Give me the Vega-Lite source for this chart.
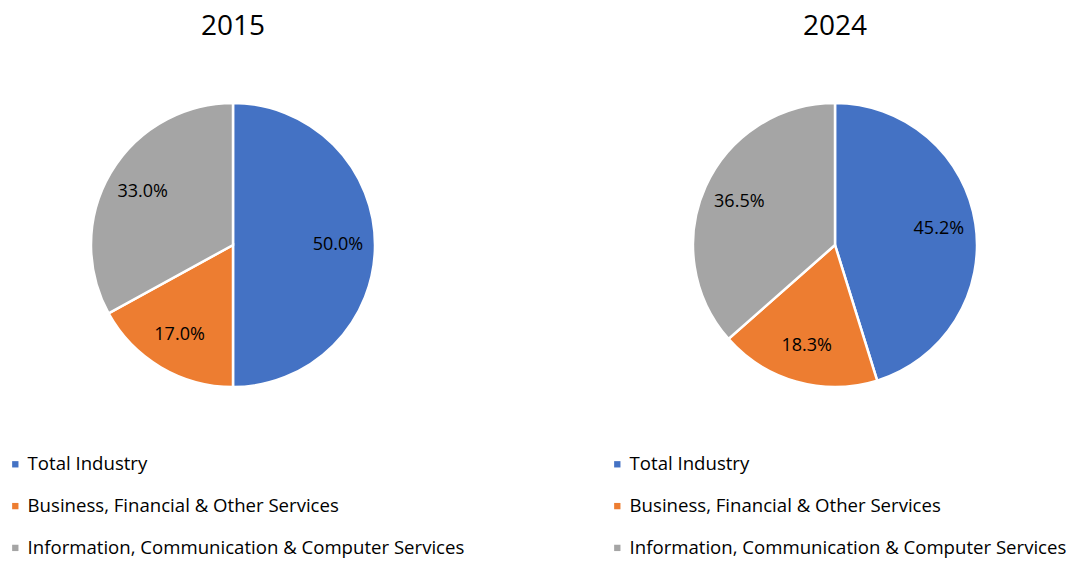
{
  "$schema": "https://vega.github.io/schema/vega-lite/v6.json",
  "padding": {"left": 5, "top": 13, "right": 0, "bottom": 0},
  "background": "white",
  "data": {"values": [
    {"year": "2015", "sector": "Total Industry", "rank": 1, "share": 0.500},
    {"year": "2015", "sector": "Business, Financial & Other Services", "rank": 2, "share": 0.170},
    {"year": "2015", "sector": "Information, Communication & Computer Services", "rank": 3, "share": 0.330},
    {"year": "2024", "sector": "Total Industry", "rank": 1, "share": 0.452},
    {"year": "2024", "sector": "Business, Financial & Other Services", "rank": 2, "share": 0.183},
    {"year": "2024", "sector": "Information, Communication & Computer Services", "rank": 3, "share": 0.365}
  ]},
  "spacing": 142,
  "hconcat": [
    {
      "title": {"text": "2015", "fontSize": 28, "font": "Open Sans", "fontWeight": "normal", "color": "#000000", "offset": 12},
      "width": 456, "height": 384,
      "transform": [{"filter": "datum.year == '2015'"}],
      "encoding": {
        "theta": {"field": "share", "type": "quantitative", "stack": true},
        "order": {"field": "rank", "type": "quantitative"}
      },
      "layer": [
        {"mark": {"type": "arc", "radius": 142, "stroke": "white", "strokeWidth": 2.5},
         "encoding": {"color": {"field": "sector", "type": "nominal",
           "scale": {"domain": ["Total Industry", "Business, Financial & Other Services", "Information, Communication & Computer Services"], "range": ["#4472C4", "#ED7D31", "#A5A5A5"]},
           "legend": {"orient": "none", "legendX": 1, "legendY": 402, "title": null, "symbolType": "square", "symbolSize": 40, "symbolStrokeWidth": 0, "labelFontSize": 18.6, "labelFont": "Open Sans", "labelColor": "#000000", "labelLimit": 0, "rowPadding": 22.8, "labelOffset": 3, "direction": "vertical"}}}},
        {"mark": {"type": "text", "radius": 105, "fontSize": 18, "font": "Open Sans", "color": "#000000"},
         "encoding": {"text": {"field": "share", "type": "quantitative", "format": ".1%"}}}
      ]
    },
    {
      "title": {"text": "2024", "fontSize": 28, "font": "Open Sans", "fontWeight": "normal", "color": "#000000", "offset": 12},
      "width": 456, "height": 384,
      "transform": [{"filter": "datum.year == '2024'"}],
      "encoding": {
        "theta": {"field": "share", "type": "quantitative", "stack": true},
        "order": {"field": "rank", "type": "quantitative"}
      },
      "layer": [
        {"mark": {"type": "arc", "radius": 142, "stroke": "white", "strokeWidth": 2.5},
         "encoding": {"color": {"field": "sector", "type": "nominal",
           "scale": {"domain": ["Total Industry", "Business, Financial & Other Services", "Information, Communication & Computer Services"], "range": ["#4472C4", "#ED7D31", "#A5A5A5"]},
           "legend": {"orient": "none", "legendX": 1, "legendY": 402, "title": null, "symbolType": "square", "symbolSize": 40, "symbolStrokeWidth": 0, "labelFontSize": 18.6, "labelFont": "Open Sans", "labelColor": "#000000", "labelLimit": 0, "rowPadding": 22.8, "labelOffset": 3, "direction": "vertical"}}}},
        {"mark": {"type": "text", "radius": 105, "fontSize": 18, "font": "Open Sans", "color": "#000000"},
         "encoding": {"text": {"field": "share", "type": "quantitative", "format": ".1%"}}}
      ]
    }
  ],
  "resolve": {"scale": {"color": "independent", "theta": "independent"}},
  "config": {"view": {"stroke": null}}
}
